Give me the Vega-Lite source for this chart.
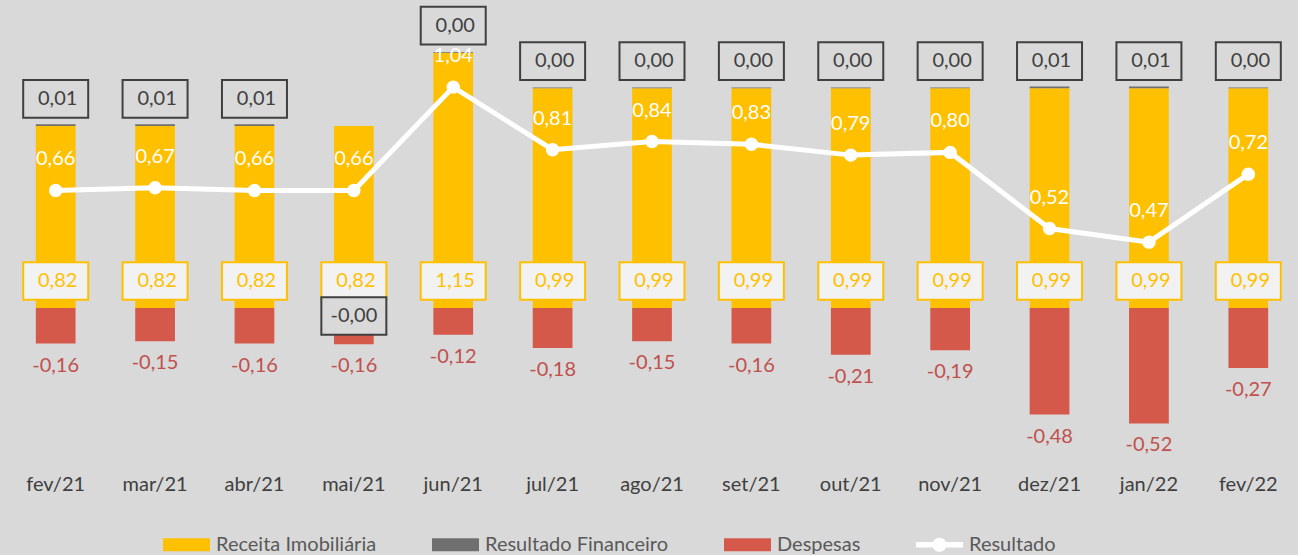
{
  "$schema": "https://vega.github.io/schema/vega-lite/v6.json",
  "width": 1292,
  "height": 452,
  "padding": {"left": 6, "top": 0, "right": 0, "bottom": 0},
  "background": "#D9D9D9",
  "config": {
    "view": {"stroke": null},
    "font": "Lato",
    "locale": {"number": {"decimal": ",", "thousands": ".", "grouping": [3], "currency": ["R$", ""], "minus": "-"}}
  },
  "data": {
    "values": [
      {"mes": "fev/21", "receita": 0.82, "fin": 0.008, "despesas": -0.16, "resultado": 0.66},
      {"mes": "mar/21", "receita": 0.82, "fin": 0.008, "despesas": -0.15, "resultado": 0.67},
      {"mes": "abr/21", "receita": 0.82, "fin": 0.008, "despesas": -0.16, "resultado": 0.66},
      {"mes": "mai/21", "receita": 0.82, "fin": -0.003, "despesas": -0.16, "resultado": 0.66},
      {"mes": "jun/21", "receita": 1.15, "fin": 0.003, "despesas": -0.12, "resultado": 1.04},
      {"mes": "jul/21", "receita": 0.99, "fin": 0.003, "despesas": -0.18, "resultado": 0.81},
      {"mes": "ago/21", "receita": 0.99, "fin": 0.003, "despesas": -0.15, "resultado": 0.84},
      {"mes": "set/21", "receita": 0.99, "fin": 0.003, "despesas": -0.16, "resultado": 0.83},
      {"mes": "out/21", "receita": 0.99, "fin": 0.003, "despesas": -0.21, "resultado": 0.79},
      {"mes": "nov/21", "receita": 0.99, "fin": 0.003, "despesas": -0.19, "resultado": 0.80},
      {"mes": "dez/21", "receita": 0.99, "fin": 0.008, "despesas": -0.48, "resultado": 0.52},
      {"mes": "jan/22", "receita": 0.99, "fin": 0.008, "despesas": -0.52, "resultado": 0.47},
      {"mes": "fev/22", "receita": 0.99, "fin": 0.003, "despesas": -0.27, "resultado": 0.72}
    ]
  },
  "encoding": {
    "x": {
      "field": "mes", "type": "ordinal", "sort": null,
      "scale": {"paddingInner": 0.6, "paddingOuter": 0.3},
      "axis": {"title": null, "domain": false, "ticks": false, "grid": false, "labelAngle": 0, "labelFont": "Lato", "labelFontSize": 20, "labelColor": "#404040", "labelPadding": 22}
    }
  },
  "layer": [
    {
      "layer": [
        {
          "transform": [{"fold": ["receita", "fin", "despesas"], "as": ["serie", "valor"]}],
          "mark": {"type": "bar"},
          "encoding": {
            "y": {"field": "valor", "type": "quantitative", "stack": "zero", "scale": {"domain": [-0.6486, 1.3874], "nice": false, "zero": false}, "axis": null},
            "color": {
              "field": "serie", "type": "nominal",
              "scale": {"domain": ["receita", "fin", "despesas", "resultado"], "range": ["#FFC000", "#6F6F6F", "#D5594B", "#FFFFFF"]},
              "legend": {
                "orient": "none", "legendX": 157, "legendY": 521,
                "direction": "horizontal", "columns": 4, "title": null,
                "symbolType": "M-1,-0.28L1,-0.28L1,0.28L-1,0.28Z", "symbolSize": 2209,
                "symbolStrokeWidth": 0, "symbolOpacity": 1,
                "labelFont": "Lato", "labelFontSize": 20, "labelColor": "#595959", "labelLimit": 400,
                "labelOffset": 6, "columnPadding": 55,
                "labelExpr": "datum.label === 'receita' ? 'Receita Imobiliária' : datum.label === 'fin' ? 'Resultado Financeiro' : datum.label === 'despesas' ? 'Despesas' : 'Resultado'",
                "encode": {
                  "symbols": {
                    "update": {
                      "shape": {"signal": "datum.value === 'resultado' ? 'M-1,-0.12L1,-0.12L1,0.12L-1,0.12Z M-0.3,0A0.3,0.3 0 1,1 0.3,0A0.3,0.3 0 1,1 -0.3,0Z' : 'M-1,-0.28L1,-0.28L1,0.28L-1,0.28Z'"}
                    }
                  }
                }
              }
            },
            "order": {"field": "serie", "sort": "descending"}
          }
        },
        {
          "mark": {"type": "point", "shape": "M-1,-0.58L1,-0.58L1,0.58L-1,0.58Z", "size": 4225, "filled": true, "fill": "#F2F2F2", "stroke": "#FFC000", "strokeWidth": 2, "opacity": 1, "yOffset": -27},
          "encoding": {"y": {"datum": 0, "type": "quantitative", "axis": null}}
        },
        {
          "mark": {"type": "text", "color": "#FFC000", "font": "Lato", "fontSize": 20, "baseline": "middle", "yOffset": -27, "dx": 2},
          "encoding": {
            "y": {"datum": 0, "type": "quantitative", "axis": null},
            "text": {"field": "receita", "type": "quantitative", "format": ".2f"}
          }
        },
        {
          "transform": [{"filter": "datum.fin >= 0"}],
          "mark": {"type": "point", "shape": "M-1,-0.58L1,-0.58L1,0.58L-1,0.58Z", "size": 4225, "filled": false, "stroke": "#404040", "strokeWidth": 2, "opacity": 1, "yOffset": -27},
          "encoding": {"y": {"field": "receita", "type": "quantitative", "axis": null}}
        },
        {
          "transform": [{"filter": "datum.fin >= 0"}],
          "mark": {"type": "text", "color": "#404040", "font": "Lato", "fontSize": 20, "baseline": "middle", "yOffset": -27, "dx": 2},
          "encoding": {
            "y": {"field": "receita", "type": "quantitative", "axis": null},
            "text": {"field": "fin", "type": "quantitative", "format": ".2f"}
          }
        },
        {
          "transform": [{"filter": "datum.fin < 0"}],
          "mark": {"type": "point", "shape": "M-1,-0.58L1,-0.58L1,0.58L-1,0.58Z", "size": 4225, "filled": true, "fill": "#D9D9D9", "stroke": "#404040", "strokeWidth": 2, "opacity": 1, "yOffset": 8},
          "encoding": {"y": {"datum": 0, "type": "quantitative", "axis": null}}
        },
        {
          "transform": [{"filter": "datum.fin < 0"}],
          "mark": {"type": "text", "color": "#404040", "font": "Lato", "fontSize": 20, "baseline": "middle", "yOffset": 8, "text": {"expr": "'-' + replace(format(abs(datum.fin), '.2f'), '.', ',')"}},
          "encoding": {"y": {"datum": 0, "type": "quantitative", "axis": null}}
        },
        {
          "mark": {"type": "text", "color": "#C0504D", "font": "Lato", "fontSize": 20, "baseline": "middle", "yOffset": 22},
          "encoding": {
            "y": {"field": "despesas", "type": "quantitative", "axis": null},
            "text": {"field": "despesas", "type": "quantitative", "format": ".2f"}
          }
        }
      ]
    },
    {
      "layer": [
        {
          "mark": {"type": "line", "color": "#FFFFFF", "strokeWidth": 5},
          "encoding": {"y": {"field": "resultado", "type": "quantitative", "scale": {"domain": [-0.3015, 1.3603], "nice": false, "zero": false}, "axis": null}}
        },
        {
          "mark": {"type": "point", "filled": true, "color": "#FFFFFF", "size": 180, "opacity": 1},
          "encoding": {"y": {"field": "resultado", "type": "quantitative", "axis": null}}
        },
        {
          "mark": {"type": "text", "color": "#FFFFFF", "font": "Lato", "fontSize": 20, "baseline": "middle", "yOffset": -31},
          "encoding": {
            "y": {"field": "resultado", "type": "quantitative", "axis": null},
            "text": {"field": "resultado", "type": "quantitative", "format": ".2f"}
          }
        }
      ]
    }
  ],
  "resolve": {"scale": {"y": "independent"}}
}
